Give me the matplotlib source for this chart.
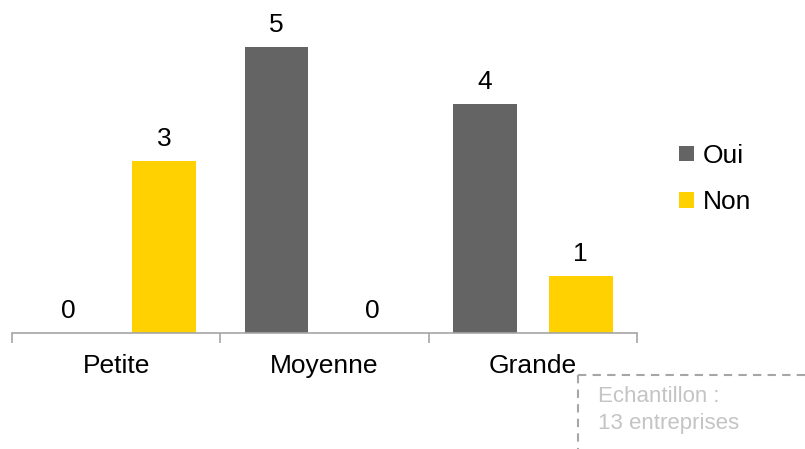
import matplotlib
matplotlib.use("Agg")
import matplotlib.pyplot as plt
from matplotlib.patches import Patch
from matplotlib.lines import Line2D
import numpy as np

plt.rcParams['font.family'] = ['Liberation Sans', 'DejaVu Sans']

categories = ["Petite", "Moyenne", "Grande"]
oui = [0, 5, 4]
non = [3, 0, 1]
series_names = ["Oui", "Non"]
note_lines = ["Echantillon :", "13 entreprises"]

c_oui = "#646464"
c_non = "#FFD100"
fs = 19

fig = plt.figure(figsize=(8.05, 4.49), dpi=100)
ax = fig.add_axes([12/805, 1 - 333/449, 625/805, 333/449])

x = np.arange(len(categories))
off = 0.23
w = 0.305
b1 = ax.bar(x - off, oui, w, color=c_oui)
b2 = ax.bar(x + off, non, w, color=c_non)
for bars, vals in ((b1, oui), (b2, non)):
    for r, v in zip(bars, vals):
        ax.annotate(str(v), (r.get_x() + r.get_width()/2, v), xytext=(0, 16),
                    textcoords="offset points", ha="center", va="center", fontsize=fs)

ax.set_xlim(-0.5, len(categories) - 0.5)
ax.set_ylim(0, 333/57.2)
for s in ("top", "right", "left"):
    ax.spines[s].set_visible(False)
ax.spines["bottom"].set_color("#A6A6A6")
ax.spines["bottom"].set_linewidth(1.2)
ax.set_yticks([])
ax.set_xticks(np.arange(len(categories) + 1) - 0.5)
ax.set_xticklabels([])
ax.tick_params(axis="x", which="major", length=7, width=1.2, color="#A6A6A6", direction="out")
ax.set_xticks(x, minor=True)
ax.set_xticklabels(categories, minor=True, fontsize=fs)
ax.tick_params(axis="x", which="minor", length=0, pad=15)

handles = [Patch(facecolor=c_oui), Patch(facecolor=c_non)]
fig.legend(handles, series_names, loc="center left", bbox_to_anchor=(679/805, 1 - 179/449),
           frameon=False, fontsize=fs, handlelength=0.55, handleheight=0.55,
           handletextpad=0.35, labelspacing=0.85, borderaxespad=0, borderpad=0)

# sample-size note box (dashed)
fig.add_artist(Line2D([578/805, 1.0], [1 - 375/449, 1 - 375/449], transform=fig.transFigure,
                      color="#A6A6A6", lw=1.5, ls=(0, (4, 3))))
fig.add_artist(Line2D([578/805, 578/805], [1 - 375/449, 0], transform=fig.transFigure,
                      color="#A6A6A6", lw=1.5, ls=(0, (4, 3))))
fig.text(598/805, 1 - 397/449, note_lines[0], color="#C4C4C4", fontsize=16, va="center", ha="left")
fig.text(598/805, 1 - 423/449, note_lines[1], color="#C4C4C4", fontsize=16, va="center", ha="left")

fig.savefig("out.png", dpi=100)
